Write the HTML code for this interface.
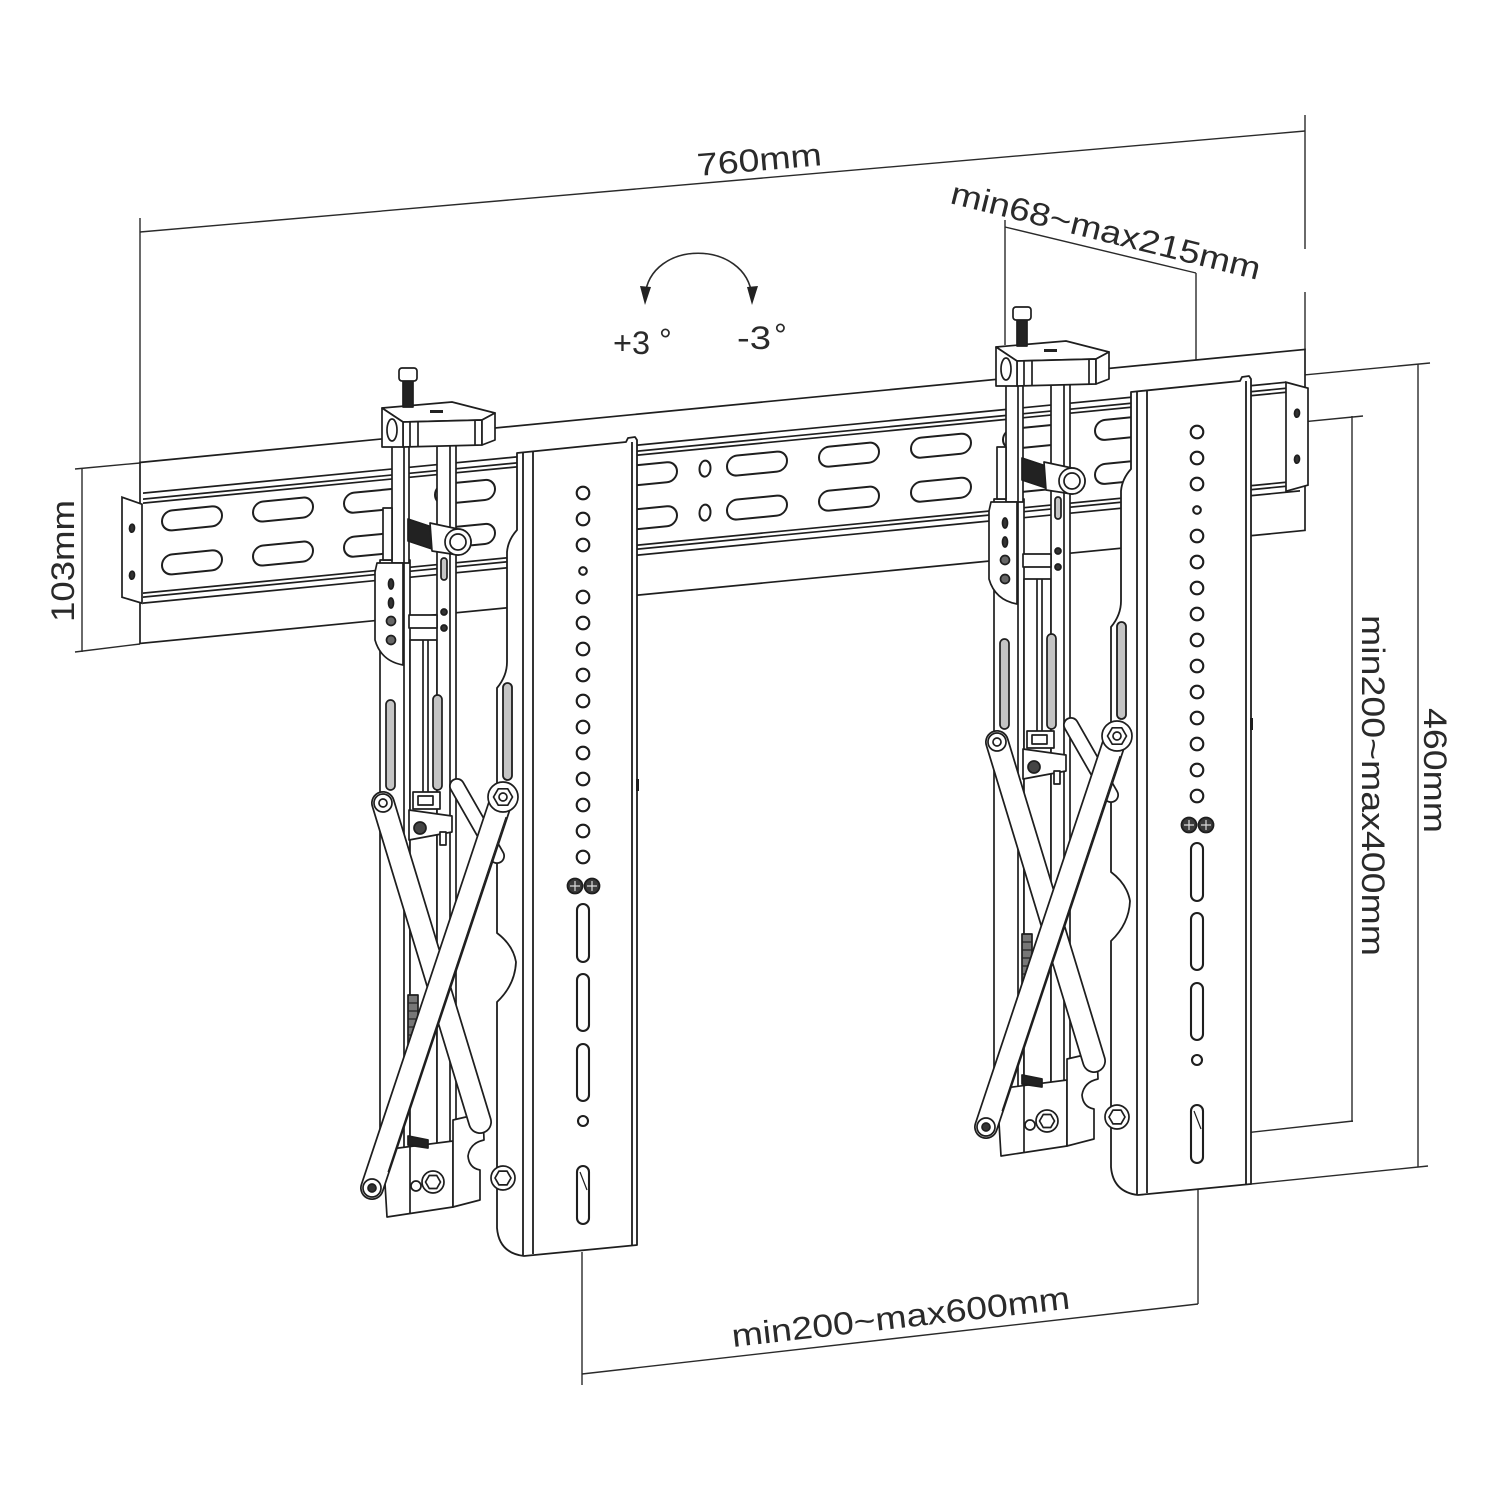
<!DOCTYPE html>
<html><head><meta charset="utf-8"><style>
html,body{margin:0;padding:0;background:#fff;}
svg{display:block;}
text{font-family:"Liberation Sans",Arial,sans-serif;fill:#2a2a2a;}
</style></head><body>
<svg width="1500" height="1494" viewBox="0 0 1500 1494" xmlns="http://www.w3.org/2000/svg">
<rect width="1500" height="1494" fill="#fff"/>
<defs>
<g id="plate" fill="#fff" stroke="#1e1e1e" stroke-width="1.8" stroke-linejoin="round">
 <path d="M517,453 L626,442 L628,438 L635,437 L637,440 L637,1245 L524,1256 Q499,1253 497,1228 L497,1002 Q515,985 516,962 Q513,945 497,933 L497,688 Q507,676 507,662 L507,552 Q508,540 517,530 Z"/>
 <line x1="523" y1="452" x2="523" y2="1255"/>
 <line x1="533" y1="451" x2="533" y2="1254"/>
 <line x1="632" y1="442" x2="632" y2="1245"/>
 <rect x="503" y="683" width="9" height="97" rx="4.5" fill="#c4c4c4"/>
 <g stroke-width="2.1">
  <circle cx="583" cy="493" r="6.3"/><circle cx="583" cy="519" r="6.3"/><circle cx="583" cy="545" r="6.3"/>
  <circle cx="583" cy="571" r="3.8"/><circle cx="583" cy="597" r="6.3"/><circle cx="583" cy="623" r="6.3"/>
  <circle cx="583" cy="649" r="6.3"/><circle cx="583" cy="675" r="6.3"/><circle cx="583" cy="701" r="6.3"/>
  <circle cx="583" cy="727" r="6.3"/><circle cx="583" cy="753" r="6.3"/><circle cx="583" cy="779" r="6.3"/>
  <circle cx="583" cy="805" r="6.3"/><circle cx="583" cy="831" r="6.3"/><circle cx="583" cy="857" r="6.3"/>
  <rect x="577" y="904" width="12" height="58" rx="6"/>
  <rect x="577" y="974" width="12" height="57" rx="6"/>
  <rect x="577" y="1044" width="12" height="57" rx="6"/>
  <circle cx="583" cy="1121" r="5"/>
  <rect x="577" y="1166" width="12" height="58" rx="6"/>
  <line x1="580" y1="1172" x2="587" y2="1190" stroke-width="1.2"/>
 </g>
 <circle cx="575" cy="886" r="7.5" fill="#3a3a3a"/>
 <circle cx="592" cy="886" r="7.5" fill="#3a3a3a"/>
 <path d="M570,886h10M575,881v10M587,886h10M592,881v10" stroke="#ddd" stroke-width="1.2"/>
 <rect x="636" y="779" width="3" height="12" fill="#1e1e1e" stroke="none"/>
</g>

<g id="mech" fill="#fff" stroke="#1e1e1e" stroke-width="1.7" stroke-linejoin="round">
 <rect x="380" y="560" width="30" height="590"/>
 <rect x="410" y="640" width="27" height="510"/>
 <rect x="392" y="445" width="17" height="118"/>
 <rect x="437" y="445" width="19" height="705"/>
 <line x1="404" y1="445" x2="404" y2="1150"/>
 <line x1="450" y1="445" x2="450" y2="1150"/>
 <line x1="423" y1="640" x2="423" y2="792"/>
 <line x1="428" y1="640" x2="428" y2="792"/>
 <rect x="383" y="508" width="9" height="52"/>
 <rect x="386" y="700" width="9" height="90" rx="4.5" fill="#c4c4c4"/>
 <rect x="433" y="695" width="9" height="95" rx="4.5" fill="#c4c4c4"/>
 <rect x="408" y="995" width="10" height="65" fill="#777"/>
 <path d="M408,1003h10M408,1011h10M408,1019h10M408,1027h10M408,1035h10M408,1043h10M408,1051h10" stroke="#222" stroke-width="1.2"/>
 <rect x="409" y="615" width="28" height="13"/>
 <path d="M377,563 L403,563 L403,665 Q381,661 375,640 L375,572 Z"/>
 <ellipse cx="391" cy="584" rx="2.5" ry="5" fill="#333"/>
 <ellipse cx="391" cy="603" rx="2.5" ry="5" fill="#333"/>
 <circle cx="391" cy="621" r="4.5" fill="#666"/>
 <circle cx="391" cy="640" r="4.5" fill="#666"/>
 <line x1="457" y1="786" x2="497" y2="856" stroke-width="16" stroke-linecap="round"/>
 <line x1="457" y1="786" x2="497" y2="856" stroke="#fff" stroke-width="12.5" stroke-linecap="round"/>
 <rect x="413" y="792" width="27" height="17"/>
 <rect x="418" y="796" width="15" height="9"/>
 <path d="M409,810 L452,816 L452,832 L409,840 Z"/>
 <circle cx="420" cy="828" r="6" fill="#444"/>
 <rect x="440" y="832" width="6" height="13"/>
 <path d="M383,1150 L453,1141 L453,1207 L387,1217 Z"/>
 <line x1="410" y1="1147" x2="410" y2="1213"/>
 <path d="M453,1120 L483,1113 L484,1140 Q470,1143 468,1156 Q469,1168 480,1170 L480,1200 L453,1207 Z"/>
 <line x1="383" y1="803" x2="480" y2="1122" stroke-width="24" stroke-linecap="round"/>
 <line x1="383" y1="803" x2="480" y2="1122" stroke="#fff" stroke-width="20.5" stroke-linecap="round"/>
 <line x1="372" y1="1188" x2="502" y2="798" stroke-width="24" stroke-linecap="round"/>
 <line x1="372" y1="1188" x2="502" y2="798" stroke="#fff" stroke-width="20.5" stroke-linecap="round"/>
 <line x1="388" y1="1172" x2="506" y2="817" stroke-width="1.1"/>
 <circle cx="383" cy="803" r="9"/><circle cx="383" cy="803" r="4"/>
 <circle cx="372" cy="1188" r="9"/><circle cx="372" cy="1188" r="4" fill="#333"/>
 <circle cx="503" cy="797" r="15"/>
 <polygon points="512.5,797 507.75,805.2 498.25,805.2 493.5,797 498.25,788.8 507.75,788.8"/>
 <circle cx="503" cy="797" r="4"/>
 <circle cx="503" cy="1178" r="12"/>
 <polygon points="511,1178 507,1184.9 499,1184.9 495,1178 499,1171.1 507,1171.1"/>
 <circle cx="433" cy="1182" r="11"/>
 <polygon points="440.5,1182 436.75,1188.5 429.25,1188.5 425.5,1182 429.25,1175.5 436.75,1175.5"/>
 <circle cx="416" cy="1186" r="5"/>
 <polygon points="408,1136 428,1140 428,1148 408,1145" fill="#222"/>
 <polygon points="382,408 452,402 495,413 482,420 403,422"/>
 <polygon points="403,422 482,420 482,445 403,447"/>
 <polygon points="382,408 403,422 403,447 382,447"/>
 <polygon points="482,420 495,413 495,440 482,445"/>
 <line x1="410" y1="422" x2="410" y2="447"/>
 <line x1="418" y1="422" x2="418" y2="447"/>
 <line x1="475" y1="420" x2="475" y2="445"/>
 <ellipse cx="392" cy="430" rx="5" ry="11"/>
 <rect x="430" y="410" width="13" height="3" fill="#222" stroke="none"/>
 <rect x="403" y="380" width="10" height="27" fill="#222"/>
 <rect x="399" y="368" width="18" height="13" rx="3"/>
 <polygon points="408,519 432,527 432,549 408,541" fill="#222"/>
 <path d="M430,523 L458,529 A13,13 0 0 1 458,555 L432,551 Z"/>
 <circle cx="458" cy="542" r="13"/>
 <circle cx="458" cy="542" r="8"/>
 <rect x="441" y="558" width="6" height="22" rx="3" fill="#c4c4c4"/>
 <circle cx="444" cy="612" r="3" fill="#333"/>
 <circle cx="444" cy="628" r="3" fill="#333"/>
</g>
</defs>

<g fill="none" stroke="#2a2a2a" stroke-width="1.4">
 <line x1="140" y1="218" x2="140" y2="463"/>
 <line x1="1305" y1="115" x2="1305" y2="249"/>
 <line x1="1305" y1="292" x2="1305" y2="350"/>
 <line x1="140" y1="232" x2="1305" y2="131"/>
 <line x1="1005" y1="220" x2="1005" y2="345"/>
 <line x1="1196" y1="273" x2="1196" y2="385"/>
 <line x1="1005" y1="227" x2="1196" y2="273"/>
 <line x1="75" y1="469" x2="140" y2="463"/>
 <line x1="75" y1="652" x2="140" y2="644"/>
 <line x1="82" y1="469" x2="82" y2="652"/>
 <line x1="1251" y1="380" x2="1430" y2="363"/>
 <line x1="1418" y1="364" x2="1418" y2="1167"/>
 <line x1="1251" y1="1184" x2="1428" y2="1166"/>
 <line x1="1199" y1="432" x2="1363" y2="416"/>
 <line x1="1352" y1="416" x2="1352" y2="1122"/>
 <line x1="1199" y1="1138" x2="1353" y2="1121"/>
 <line x1="582" y1="1252" x2="582" y2="1385"/>
 <line x1="1198" y1="1190" x2="1198" y2="1304"/>
 <line x1="582" y1="1374" x2="1198" y2="1304"/>
 <path d="M645,296 C650,239 746,239 752,296" stroke-width="1.6"/>
</g>
<polygon points="645,305 640,286 651,287" fill="#222"/>
<polygon points="752,305 747,287 758,286" fill="#222"/>

<text x="698" y="176" font-size="32" textLength="125" lengthAdjust="spacingAndGlyphs" transform="rotate(-4.95 698 176)">760mm</text>
<text x="949" y="203" font-size="32" textLength="318" lengthAdjust="spacingAndGlyphs" transform="rotate(14 949 203)">min68~max215mm</text>
<text x="733" y="1347" font-size="32" textLength="340" lengthAdjust="spacingAndGlyphs" transform="rotate(-6.5 733 1347)">min200~max600mm</text>
<text x="1362" y="615" font-size="32" textLength="341" lengthAdjust="spacingAndGlyphs" transform="rotate(90 1362 615)">min200~max400mm</text>
<text x="1424" y="708" font-size="32" textLength="125" lengthAdjust="spacingAndGlyphs" transform="rotate(90 1424 708)">460mm</text>
<text x="74" y="622" font-size="32" textLength="122" lengthAdjust="spacingAndGlyphs" transform="rotate(-90 74 622)">103mm</text>
<text x="613" y="354" font-size="32" textLength="37" lengthAdjust="spacingAndGlyphs">+3</text>
<text x="659" y="351" font-size="32">°</text>
<text x="737" y="349" font-size="32" textLength="34" lengthAdjust="spacingAndGlyphs">-3</text>
<text x="774" y="346" font-size="32">°</text>

<g transform="matrix(1,-0.097,0,1,0,0)" fill="none" stroke="#1e1e1e" stroke-width="1.7">
 <rect x="140" y="476" width="1165" height="181" fill="#fff"/>
 <path d="M143,507H1286 M143,513H1286 M143,517H1286 M143,607H1286 M143,611H1286 M143,617H1300"/>
 <polygon points="122,509 142,518 142,617 122,609" fill="#fff"/>
 <polygon points="1286,507 1308,515 1308,612 1286,616" fill="#fff"/>
 <ellipse cx="132" cy="541" rx="2.5" ry="4" fill="#333"/>
 <ellipse cx="132" cy="588" rx="2.5" ry="4" fill="#333"/>
 <ellipse cx="1297" cy="539" rx="2.5" ry="4" fill="#333"/>
 <ellipse cx="1297" cy="585" rx="2.5" ry="4" fill="#333"/>
 <g stroke-width="2">
  <rect x="162" y="527" width="60" height="20" rx="10"/><rect x="162" y="571" width="60" height="20" rx="10"/>
  <rect x="253" y="527" width="60" height="20" rx="10"/><rect x="253" y="571" width="60" height="20" rx="10"/>
  <rect x="344" y="527" width="60" height="20" rx="10"/><rect x="344" y="571" width="60" height="20" rx="10"/>
  <rect x="435" y="527" width="60" height="20" rx="10"/><rect x="435" y="571" width="60" height="20" rx="10"/>
  <rect x="526" y="527" width="60" height="20" rx="10"/><rect x="526" y="571" width="60" height="20" rx="10"/>
  <rect x="617" y="527" width="60" height="20" rx="10"/><rect x="617" y="571" width="60" height="20" rx="10"/>
  <ellipse cx="705" cy="537" rx="5.5" ry="8"/><ellipse cx="705" cy="581" rx="5.5" ry="8"/>
  <rect x="727" y="527" width="60" height="20" rx="10"/><rect x="727" y="571" width="60" height="20" rx="10"/>
  <rect x="819" y="527" width="60" height="20" rx="10"/><rect x="819" y="571" width="60" height="20" rx="10"/>
  <rect x="911" y="527" width="60" height="20" rx="10"/><rect x="911" y="571" width="60" height="20" rx="10"/>
  <rect x="1003" y="527" width="60" height="20" rx="10"/><rect x="1003" y="571" width="60" height="20" rx="10"/>
  <rect x="1095" y="527" width="60" height="20" rx="10"/><rect x="1095" y="571" width="60" height="20" rx="10"/>
 </g>
</g>

<use href="#plate"/>
<use href="#plate" transform="translate(614,-61)"/>
<use href="#mech"/>
<use href="#mech" transform="translate(614,-61)"/>
</svg>
</body></html>
